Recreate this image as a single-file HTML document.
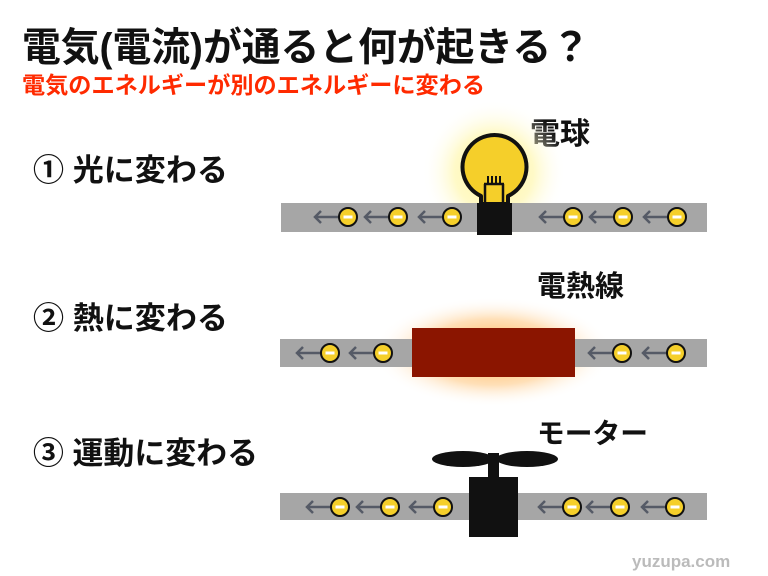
<!DOCTYPE html>
<html><head><meta charset="utf-8"><style>
html,body{margin:0;padding:0;background:#fff;width:768px;height:576px;overflow:hidden}
text{font-family:"Liberation Sans","Noto Sans CJK JP",sans-serif;font-weight:bold}
</style></head><body>
<svg width="768" height="576" viewBox="0 0 768 576" xmlns="http://www.w3.org/2000/svg">
<defs>
<radialGradient id="gy"><stop offset="0" stop-color="#fff59a" stop-opacity="1"/><stop offset="0.55" stop-color="#fff7b0" stop-opacity="0.7"/><stop offset="1" stop-color="#fff" stop-opacity="0"/></radialGradient>
<radialGradient id="go"><stop offset="0" stop-color="#ff9a20" stop-opacity="0.9"/><stop offset="0.6" stop-color="#ffc070" stop-opacity="0.5"/><stop offset="1" stop-color="#fff" stop-opacity="0"/></radialGradient>
<g id="e"><line x1="-33" y1="0" x2="-9" y2="0" stroke="#555a66" stroke-width="2.5"/><polyline points="-27,-6 -33,0 -27,6" fill="none" stroke="#555a66" stroke-width="2.5"/><circle r="9" fill="#f5cf2a" stroke="#111" stroke-width="2"/><rect x="-4.5" y="-1.5" width="9" height="3" fill="#fff"/></g>
</defs>
<text x="22" y="61" font-size="39.5" fill="#111" textLength="568" lengthAdjust="spacingAndGlyphs">電気(電流)が通ると何が起きる？</text>
<text x="22" y="93" font-size="23" fill="#ff2a00" textLength="463" lengthAdjust="spacingAndGlyphs">電気のエネルギーが別のエネルギーに変わる</text>
<text x="33" y="181" font-size="31" fill="#111" textLength="195" lengthAdjust="spacingAndGlyphs">① 光に変わる</text>
<text x="33" y="329" font-size="31" fill="#111" textLength="195" lengthAdjust="spacingAndGlyphs">② 熱に変わる</text>
<text x="33" y="464" font-size="31" fill="#111" textLength="225" lengthAdjust="spacingAndGlyphs">③ 運動に変わる</text>
<text x="530" y="144" font-size="30" fill="#111">電球</text>
<text x="537" y="296" font-size="29" fill="#111">電熱線</text>
<text x="537" y="443" font-size="28" fill="#111" textLength="111" lengthAdjust="spacingAndGlyphs">モーター</text>
<text x="632" y="567" font-size="17" fill="#bbb" font-family="Liberation Mono,monospace" font-weight="normal">yuzupa.com</text>
<!-- row1 -->
<circle cx="494" cy="172" r="72" fill="url(#gy)"/>
<rect x="281" y="203" width="426" height="29" fill="#a6a6a6"/>
<path d="M481,204 L481,196 A32,32 0 1 1 508,196 L508,204 Z" fill="#f5cf2a" stroke="#111" stroke-width="4" stroke-linejoin="round"/>
<path d="M485,204 V184 M503,204 V184 M484,184 H504" stroke="#111" stroke-width="2.5" fill="none"/>
<path d="M488,184 V176 M492,184 V176 M496,184 V176 M500,184 V176" stroke="#111" stroke-width="2"/>
<rect x="477" y="203" width="35" height="32" fill="#111"/>
<use href="#e" x="348" y="217"/><use href="#e" x="398" y="217"/><use href="#e" x="452" y="217"/>
<use href="#e" x="573" y="217"/><use href="#e" x="623" y="217"/><use href="#e" x="677" y="217"/>
<!-- row2 -->
<ellipse cx="493" cy="352" rx="120" ry="55" fill="url(#go)"/>
<rect x="280" y="339" width="427" height="28" fill="#a6a6a6"/>
<rect x="412" y="328" width="163" height="49" fill="#8b1500"/>
<use href="#e" x="330" y="353"/><use href="#e" x="383" y="353"/>
<use href="#e" x="622" y="353"/><use href="#e" x="676" y="353"/>
<!-- row3 -->
<rect x="280" y="493" width="427" height="27" fill="#a6a6a6"/>
<ellipse cx="463" cy="459" rx="31" ry="8" fill="#111"/>
<ellipse cx="527" cy="459" rx="31" ry="8" fill="#111"/>
<rect x="488" y="453" width="11" height="24" fill="#111"/>
<rect x="469" y="477" width="49" height="60" fill="#111"/>
<use href="#e" x="340" y="507"/><use href="#e" x="390" y="507"/><use href="#e" x="443" y="507"/>
<use href="#e" x="572" y="507"/><use href="#e" x="620" y="507"/><use href="#e" x="675" y="507"/>
</svg>
</body></html>
